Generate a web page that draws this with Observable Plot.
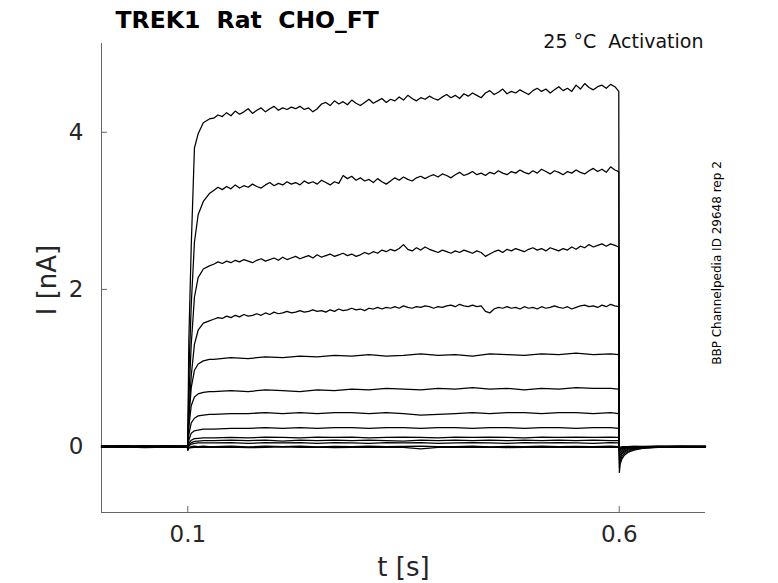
<!DOCTYPE html>
<html>
<head>
<meta charset="utf-8">
<script src="https://cdn.jsdelivr.net/npm/d3@7"></script>
<script src="https://cdn.jsdelivr.net/npm/@observablehq/plot@0.6"></script>
<style>
  html, body { margin: 0; padding: 0; background: #fff; overflow: hidden; }
  #chart { width: 778px; height: 583px; }
</style>
</head>
<body>
<div id="chart"></div>
<script>
// ---------- tick labels ----------
const xTicks = [0.1, 0.6];
const xTickLabels = ["0.1", "0.6"];
const yTicks = [0, 2, 4];
const yTickLabels = ["0", "2", "4"];
const xDomain = [0, 0.7];
const yDomain = [-0.84, 5.13];

// ---------- sample times (s) ----------
const baseT = [0, 0.025, 0.05, 0.075, 0.0995];
const onsetT = [0.1, 0.1012, 0.104, 0.1077, 0.112, 0.118, 0.125];
const fineT = [
  0.13,0.135,0.14,0.145,0.15,0.155,0.16,0.165,0.17,0.175,
  0.18,0.185,0.19,0.195,0.2,0.205,0.21,0.215,0.22,0.225,
  0.23,0.235,0.24,0.245,0.25,0.255,0.26,0.265,0.27,0.275,
  0.28,0.285,0.29,0.295,0.3,0.305,0.31,0.315,0.32,0.325,
  0.33,0.335,0.34,0.345,0.35,0.355,0.36,0.365,0.37,0.375,
  0.38,0.385,0.39,0.395,0.4,0.405,0.41,0.415,0.42,0.425,
  0.43,0.435,0.44,0.445,0.45,0.455,0.46,0.465,0.47,0.475,
  0.48,0.485,0.49,0.495,0.5,0.505,0.51,0.515,0.52,0.525,
  0.53,0.535,0.54,0.545,0.55,0.555,0.56,0.565,0.57,0.575,
  0.58,0.585,0.59,0.595];
const coarseT = [0.13,0.15,0.17,0.19,0.21,0.23,0.25,0.27,0.29,0.31,0.33,0.35,
  0.37,0.39,0.41,0.43,0.45,0.47,0.49,0.51,0.53,0.55,0.57,0.59];
const endT = 0.5995;
const tailT = [0.6002, 0.601, 0.603, 0.606, 0.61, 0.617, 0.627, 0.645, 0.67, 0.7];

// ---------- currents (nA), one row per sweep ----------
const baseValues = [
  [0.005, -0.008, 0.01, -0.005, 0.0],
  [-0.006, 0.008, -0.004, 0.009, -0.01],
  [0.01, -0.003, 0.006, -0.008, 0.004],
  [-0.01, 0.005, -0.009, 0.003, 0.008],
  [0.003, 0.01, -0.006, 0.007, -0.004],
  [-0.004, -0.009, 0.008, -0.002, 0.006],
  [0.008, 0.002, -0.01, 0.01, -0.006],
  [-0.002, 0.007, 0.004, -0.01, 0.002],
  [0.006, -0.006, 0.002, 0.005, -0.008],
  [-0.008, 0.004, -0.002, -0.006, 0.01],
  [0.002, -0.01, 0.009, 0.001, -0.002],
  [-0.005, 0.006, -0.007, 0.008, 0.005],
  [-0.012, -0.004, -0.015, -0.008, -0.01]
];
const onsetValues = [
  [-0.03, 1.35, 2.55, 3.8, 3.98, 4.12, 4.17],
  [-0.03, 0.9, 1.8, 2.6, 2.95, 3.12, 3.22],
  [-0.03, 0.6, 1.3, 1.9, 2.15, 2.26, 2.3],
  [-0.03, 0.4, 0.9, 1.3, 1.48, 1.57, 1.6],
  [-0.03, 0.35, 0.75, 0.97, 1.05, 1.09, 1.11],
  [-0.03, 0.25, 0.52, 0.63, 0.67, 0.69, 0.7],
  [-0.03, 0.15, 0.3, 0.36, 0.39, 0.4, 0.41],
  [-0.03, 0.08, 0.17, 0.2, 0.21, 0.22, 0.22],
  [-0.03, 0.04, 0.08, 0.1, 0.105, 0.11, 0.11],
  [-0.03, 0.02, 0.05, 0.065, 0.07, 0.075, 0.075],
  [-0.03, 0.01, 0.03, 0.04, 0.045, 0.045, 0.045],
  [-0.04, -0.01, 0.0, 0.005, 0.0, 0.005, 0.0],
  [-0.05, -0.02, -0.015, -0.01, -0.012, -0.01, -0.012]
];
// four largest sweeps, on fineT
const finePlateau = [
  [4.18,4.22,4.2,4.25,4.21,4.27,4.23,4.26,4.3,4.24,
   4.28,4.31,4.26,4.3,4.33,4.28,4.31,4.29,4.32,4.3,
   4.33,4.29,4.31,4.26,4.3,4.36,4.38,4.34,4.4,4.36,
   4.39,4.35,4.41,4.37,4.34,4.38,4.42,4.37,4.4,4.43,
   4.38,4.42,4.4,4.45,4.41,4.47,4.43,4.4,4.44,4.42,
   4.46,4.43,4.41,4.45,4.48,4.44,4.47,4.43,4.49,4.46,
   4.5,4.47,4.44,4.5,4.53,4.48,4.51,4.55,4.49,4.52,
   4.5,4.54,4.51,4.48,4.53,4.56,4.52,4.55,4.5,4.54,
   4.58,4.53,4.56,4.52,4.6,4.55,4.62,4.57,4.54,4.58,
   4.6,4.56,4.61,4.58],
  [3.26,3.3,3.27,3.31,3.28,3.33,3.29,3.32,3.3,3.34,
   3.31,3.29,3.33,3.36,3.32,3.35,3.33,3.37,3.34,3.36,
   3.33,3.38,3.35,3.37,3.34,3.39,3.36,3.33,3.37,3.35,
   3.45,3.41,3.44,3.39,3.42,3.38,3.4,3.36,3.41,3.37,
   3.34,3.38,3.42,3.39,3.43,3.4,3.38,3.42,3.44,3.41,
   3.44,3.46,3.43,3.47,3.45,3.42,3.46,3.49,3.45,3.47,
   3.5,3.46,3.48,3.45,3.49,3.47,3.51,3.48,3.46,3.5,
   3.48,3.52,3.49,3.47,3.51,3.48,3.53,3.5,3.47,3.51,
   3.49,3.46,3.5,3.48,3.52,3.49,3.47,3.51,3.54,3.5,
   3.53,3.49,3.56,3.52],
  [2.32,2.35,2.33,2.36,2.34,2.37,2.35,2.38,2.36,2.34,
   2.37,2.39,2.36,2.38,2.4,2.37,2.41,2.38,2.4,2.42,
   2.39,2.41,2.43,2.4,2.44,2.41,2.43,2.45,2.42,2.44,
   2.46,2.43,2.45,2.42,2.44,2.47,2.45,2.48,2.46,2.5,
   2.48,2.51,2.49,2.52,2.57,2.51,2.49,2.53,2.5,2.54,
   2.51,2.49,2.47,2.5,2.48,2.46,2.49,2.47,2.5,2.48,
   2.46,2.49,2.47,2.42,2.45,2.48,2.5,2.47,2.51,2.49,
   2.52,2.5,2.48,2.51,2.53,2.5,2.52,2.49,2.53,2.51,
   2.49,2.52,2.5,2.54,2.51,2.55,2.53,2.57,2.54,2.56,
   2.58,2.55,2.58,2.56],
  [1.62,1.64,1.63,1.66,1.64,1.67,1.65,1.68,1.66,1.67,
   1.69,1.67,1.7,1.68,1.71,1.69,1.7,1.72,1.7,1.71,
   1.73,1.71,1.72,1.74,1.72,1.73,1.71,1.74,1.72,1.75,
   1.73,1.74,1.76,1.74,1.75,1.73,1.76,1.75,1.77,1.75,
   1.77,1.76,1.78,1.76,1.79,1.77,1.76,1.78,1.77,1.79,
   1.78,1.76,1.78,1.77,1.79,1.8,1.78,1.81,1.79,1.78,
   1.8,1.78,1.79,1.72,1.7,1.75,1.77,1.76,1.78,1.76,
   1.77,1.75,1.78,1.76,1.77,1.75,1.78,1.76,1.77,1.79,
   1.77,1.76,1.78,1.75,1.77,1.79,1.8,1.78,1.79,1.77,
   1.8,1.78,1.81,1.79]
];
// smaller sweeps, on coarseT
const coarsePlateau = [
  [1.11,1.13,1.12,1.14,1.13,1.15,1.14,1.16,1.15,1.17,1.15,1.16,1.18,1.16,1.17,1.15,1.18,1.17,1.16,1.18,1.17,1.19,1.17,1.18],
  [0.7,0.71,0.7,0.72,0.71,0.7,0.72,0.71,0.73,0.72,0.74,0.73,0.72,0.74,0.73,0.75,0.73,0.74,0.72,0.74,0.73,0.75,0.74,0.74],
  [0.41,0.42,0.42,0.43,0.42,0.43,0.42,0.43,0.43,0.42,0.43,0.42,0.4,0.41,0.42,0.43,0.42,0.43,0.43,0.42,0.43,0.43,0.42,0.43],
  [0.22,0.23,0.23,0.24,0.23,0.24,0.23,0.24,0.24,0.23,0.24,0.24,0.23,0.24,0.24,0.23,0.24,0.24,0.23,0.24,0.24,0.23,0.24,0.24],
  [0.11,0.115,0.11,0.12,0.115,0.11,0.12,0.115,0.12,0.11,0.115,0.12,0.115,0.11,0.12,0.115,0.12,0.115,0.11,0.12,0.115,0.12,0.115,0.12],
  [0.075,0.08,0.075,0.08,0.07,0.08,0.075,0.08,0.075,0.08,0.075,0.07,0.08,0.075,0.08,0.075,0.08,0.075,0.08,0.075,0.08,0.075,0.08,0.075],
  [0.045,0.05,0.04,0.05,0.045,0.05,0.04,0.05,0.045,0.04,0.05,0.045,0.05,0.04,0.045,0.05,0.045,0.04,0.05,0.045,0.05,0.045,0.04,0.05],
  [0.0,0.005,-0.005,0.005,0.0,0.006,-0.004,0.003,0.0,0.005,-0.003,0.002,0.004,-0.002,0.0,0.005,-0.004,0.003,0.0,0.004,-0.003,0.002,0.0,0.004],
  [-0.012,-0.008,-0.015,-0.01,-0.006,-0.012,-0.009,-0.014,-0.01,-0.007,-0.012,-0.01,-0.03,-0.012,-0.008,-0.011,-0.009,-0.013,-0.01,-0.007,-0.012,-0.009,-0.011,-0.01]
];
const endValues = [4.52, 3.5, 2.54, 1.78, 1.17, 0.73, 0.42, 0.23, 0.115, 0.075, 0.045, 0.0, -0.01];
const tailValues = [
  [-0.33, -0.23, -0.16, -0.11, -0.075, -0.045, -0.025, -0.01, 0.0, -0.005],
  [-0.27, -0.19, -0.13, -0.09, -0.06, -0.035, -0.02, -0.008, 0.005, 0.0],
  [-0.21, -0.15, -0.1, -0.07, -0.045, -0.028, -0.015, -0.005, 0.0, 0.005],
  [-0.16, -0.11, -0.08, -0.055, -0.035, -0.02, -0.01, 0.0, -0.005, 0.0],
  [-0.12, -0.085, -0.06, -0.04, -0.025, -0.015, -0.008, 0.0, 0.004, -0.003],
  [-0.08, -0.06, -0.04, -0.028, -0.018, -0.01, -0.005, 0.003, 0.0, 0.002],
  [-0.05, -0.04, -0.028, -0.02, -0.012, -0.007, -0.003, 0.0, -0.004, 0.0],
  [-0.035, -0.025, -0.018, -0.012, -0.008, -0.004, 0.0, 0.004, 0.0, -0.002],
  [-0.025, -0.018, -0.012, -0.008, -0.005, -0.002, 0.0, -0.003, 0.002, 0.0],
  [-0.022, -0.016, -0.01, -0.006, -0.004, 0.0, 0.002, -0.002, 0.0, 0.003],
  [-0.02, -0.014, -0.009, -0.005, -0.002, 0.001, -0.002, 0.003, -0.001, 0.0],
  [-0.02, -0.012, -0.008, -0.004, -0.001, 0.002, 0.0, -0.003, 0.002, 0.001],
  [-0.025, -0.02, -0.016, -0.012, -0.01, -0.012, -0.009, -0.011, -0.01, -0.012]
];

// ---------- text ----------
const titleText = "TREK1\u00a0\u00a0Rat\u00a0\u00a0CHO_FT";
const conditionText = "25 °C\u00a0\u00a0Activation";
const sourceText = "BBP Channelpedia ID 29648 rep 2";
const xLabel = "t [s]";
const yLabel = "I [nA]";

// ---------- build rows ----------
const rows = [];
onsetValues.forEach((_, k) => {
  const push = (t, v) => rows.push({sweep: k, t, i: v});
  baseT.forEach((t, j) => push(t, baseValues[k][j]));
  onsetT.forEach((t, j) => push(t, onsetValues[k][j]));
  if (k < finePlateau.length) fineT.forEach((t, j) => push(t, finePlateau[k][j]));
  else coarseT.forEach((t, j) => push(t, coarsePlateau[k - finePlateau.length][j]));
  push(endT, endValues[k]);
  tailT.forEach((t, j) => push(t, tailValues[k][j]));
});

const W = 778, H = 583, mL = 101, mR = 73, mT = 43, mB = 71;
const plotW = W - mL - mR, plotH = H - mT - mB;
const font = "DejaVu Sans";
const axisGray = "#666";
const textDark = "#262626";

const chart = Plot.plot({
  width: W, height: H,
  marginLeft: mL, marginRight: mR, marginTop: mT, marginBottom: mB,
  x: {domain: xDomain},
  y: {domain: yDomain},
  style: {fontFamily: font, background: "#fff", overflow: "visible"},
  marks: [
    Plot.ruleX([xDomain[0]], {stroke: axisGray, strokeWidth: 1}),
    Plot.ruleY([yDomain[0]], {stroke: axisGray, strokeWidth: 1}),
    Plot.tickX(xTicks, {x: d => d, insetTop: plotH - 6, stroke: axisGray}),
    Plot.tickY(yTicks, {y: d => d, insetRight: plotW - 6, stroke: axisGray}),
    Plot.axisX(xTicks, {tickSize: 0, tickPadding: 13, fontSize: 23, color: textDark, label: null,
      tickFormat: (d) => xTickLabels[xTicks.indexOf(d)]}),
    Plot.axisY(yTicks, {tickSize: 0, tickPadding: 18, fontSize: 23, color: textDark, label: null,
      tickFormat: (d) => yTickLabels[yTicks.indexOf(d)]}),
    Plot.line(rows, {x: "t", y: "i", z: "sweep", stroke: "#000", strokeWidth: 1.25, curve: "linear"}),
    Plot.text([titleText], {text: d => d, frameAnchor: "top-left", dx: 14, dy: -16, textAnchor: "start",
      lineAnchor: "bottom", fontSize: 23.5, fontWeight: "bold", fill: "#000"}),
    Plot.text([conditionText], {text: d => d, frameAnchor: "top-right", dx: -2, dy: 4, textAnchor: "end",
      lineAnchor: "bottom", fontSize: 19, fill: "#111"}),
    Plot.text([sourceText], {text: d => d, frameAnchor: "right", dx: 12, dy: -15, rotate: -90,
      textAnchor: "middle", lineAnchor: "middle", fontSize: 12, fill: "#000"}),
    Plot.text([xLabel], {text: d => d, frameAnchor: "bottom", dx: 0, dy: 63, textAnchor: "middle",
      lineAnchor: "bottom", fontSize: 26, fill: textDark}),
    Plot.text([yLabel], {text: d => d, frameAnchor: "left", dx: -54, dy: 2, rotate: -90,
      textAnchor: "middle", lineAnchor: "middle", fontSize: 26, fill: textDark})
  ]
});
document.getElementById("chart").appendChild(chart);
</script>
</body>
</html>
